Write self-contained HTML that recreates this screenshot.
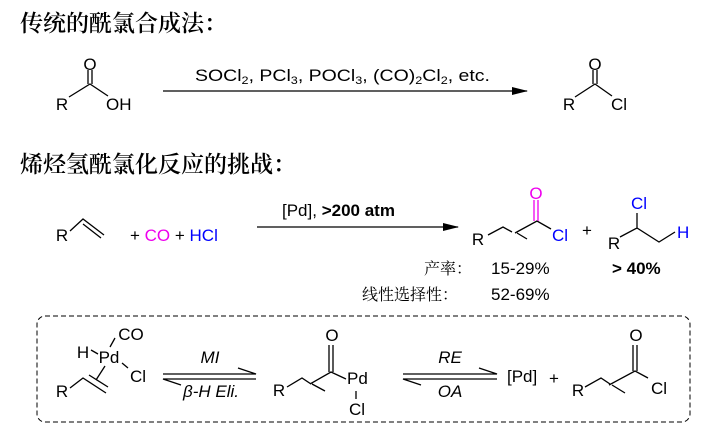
<!DOCTYPE html>
<html><head><meta charset="utf-8"><style>
body{margin:0;background:#fff;width:714px;height:430px;overflow:hidden}
svg{display:block}
text{font-family:"Liberation Sans",Arial,sans-serif;font-size:17px;fill:#000}
.cjk{font-family:"Noto Serif CJK SC","Noto Sans CJK SC",serif;font-size:23px;font-weight:600}
.cjk2{font-family:"Noto Serif CJK SC","Noto Sans CJK SC",serif;font-size:16px}
</style></head><body>
<svg width="714" height="430" viewBox="0 0 714 430" xmlns="http://www.w3.org/2000/svg">
<defs><marker id="ah" markerWidth="16" markerHeight="8" refX="15" refY="4" orient="auto" markerUnits="userSpaceOnUse"><path d="M0,0 L16,4 L0,8 Z" fill="#000"/></marker></defs>
<g stroke="#000" stroke-width="1.3" fill="none">
<!-- row1 -->
<path d="M69,97 L90,84 L108,96"/><path d="M88,84 V70 M92,84 V70"/>
<line x1="163" y1="91" x2="527" y2="91" marker-end="url(#ah)"/>
<path d="M575,97 L595,84 L612,96"/><path d="M593,84 V70 M597,84 V70"/>
<!-- row2 -->
<path d="M70,231 L83,219 L104,235 M83,224 L101,238"/>
<line x1="257" y1="227" x2="458" y2="227" marker-end="url(#ah)"/>
<path d="M488,235 L503,227 L512,232 M515,233 L537,221 L551,229 M517,233 L527,239"/>
<path d="M534,221 V200 M538,221 V200" stroke="#e0e"/>
<path d="M620,237 L637,228 L659,242 L675,232 M637,228 V213"/>
<!-- box -->
<rect x="37" y="316" width="653" height="106" rx="8" stroke-dasharray="5,3" stroke-width="1"/>
<path d="M91,350 L98,354 M110,347 L115,338 M122,363 L128,368 M105,366 L96,380"/>
<path d="M70,388 L83,378 L106,393 M89,375 L108,387"/>
<path d="M163,374 H256 L238,368 M256,379 H163 L181,385"/>
<path d="M287,387 L302,378 L311,384 M310,384 L331,372 L346,379 M312,384 L325,391 M329,372 V345 M333,372 V345 M356,391 V399"/>
<path d="M403,374 H497 L479,368 M497,379 H403 L421,385"/>
<path d="M585,387 L601,378 L610,384 M609,385 L635,371 L648,378 M612,385 L625,393 M633,371 V345 M637,371 V345"/>
</g>
<text class="cjk" x="20" y="31">传统的酰氯合成法：</text>
<text x="62" y="110" text-anchor="middle">R</text>
<text x="90" y="70" text-anchor="middle">O</text>
<text x="106" y="110">OH</text>
<text x="195" y="81" font-size="16.5" textLength="295" lengthAdjust="spacingAndGlyphs">SOCl<tspan font-size="11" dy="3">2</tspan><tspan dy="-3">, PCl</tspan><tspan font-size="11" dy="3">3</tspan><tspan dy="-3">, POCl</tspan><tspan font-size="11" dy="3">3</tspan><tspan dy="-3">, (CO)</tspan><tspan font-size="11" dy="3">2</tspan><tspan dy="-3">Cl</tspan><tspan font-size="11" dy="3">2</tspan><tspan dy="-3">, etc.</tspan></text>
<text x="569" y="110" text-anchor="middle">R</text>
<text x="595" y="70" text-anchor="middle">O</text>
<text x="611" y="110">Cl</text>
<text class="cjk" x="20" y="172">烯烃氢酰氯化反应的挑战：</text>
<text x="62" y="241" text-anchor="middle">R</text>
<text x="130" y="241">+ <tspan style="fill:#e0e">CO</tspan> +  <tspan style="fill:#00f">HCl</tspan></text>
<text x="282" y="216" font-size="16">[Pd], <tspan font-weight="bold">&gt;200 atm</tspan></text>
<text x="478" y="245" text-anchor="middle">R</text>
<text x="536" y="199" text-anchor="middle" style="fill:#e0e">O</text>
<text x="552" y="241" style="fill:#00f">Cl</text>
<text x="587" y="236" text-anchor="middle">+</text>
<text x="614" y="249" text-anchor="middle">R</text>
<text x="639" y="209" text-anchor="middle" style="fill:#00f">Cl</text>
<text x="677" y="238" style="fill:#00f">H</text>
<text class="cjk2" x="424" y="274">产率：</text>
<text x="491" y="274" font-size="16">15-29%</text>
<text x="612" y="274" font-size="16" font-weight="bold">&gt; 40%</text>
<text class="cjk2" x="362" y="300">线性选择性：</text>
<text x="491" y="300" font-size="16">52-69%</text>
<text x="83" y="358" text-anchor="middle">H</text>
<text x="131" y="340" text-anchor="middle">CO</text>
<text x="109" y="363" text-anchor="middle">Pd</text>
<text x="130" y="382">Cl</text>
<text x="62" y="397" text-anchor="middle">R</text>
<text x="210" y="363" text-anchor="middle" font-style="italic" font-size="16">MI</text>
<text x="211" y="397" text-anchor="middle" font-style="italic" font-size="16">β-H Eli.</text>
<text x="279" y="396" text-anchor="middle">R</text>
<text x="332" y="341" text-anchor="middle">O</text>
<text x="347" y="384">Pd</text>
<text x="357" y="415" text-anchor="middle">Cl</text>
<text x="450" y="363" text-anchor="middle" font-style="italic" font-size="16">RE</text>
<text x="450" y="397" text-anchor="middle" font-style="italic" font-size="16">OA</text>
<text x="507" y="382">[Pd]</text>
<text x="554" y="384" text-anchor="middle">+</text>
<text x="578" y="396" text-anchor="middle">R</text>
<text x="636" y="341" text-anchor="middle">O</text>
<text x="651" y="394">Cl</text>
</svg>
</body></html>
